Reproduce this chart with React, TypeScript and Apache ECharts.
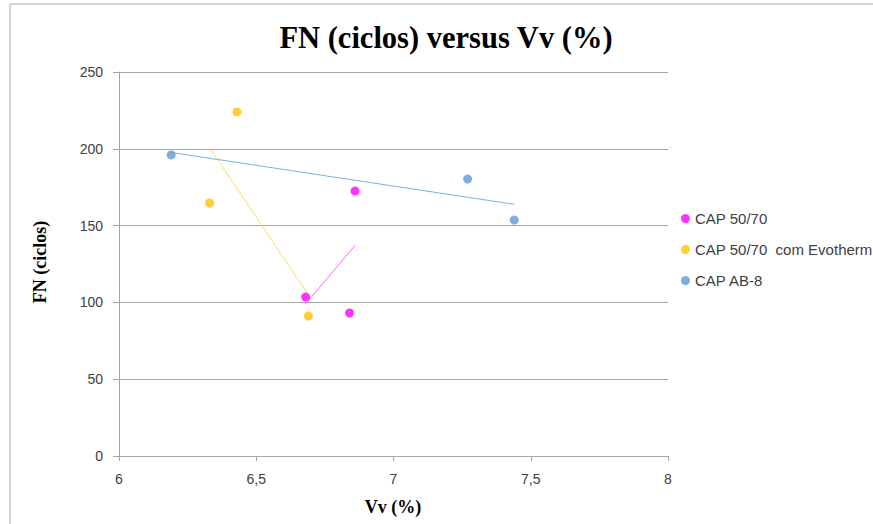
import React, { useEffect, useRef } from "react";
import * as echarts from "echarts";

const seriesNames = ["CAP 50/70", "CAP 50/70  com Evotherm", "CAP AB-8"];
const colors = ["#FF00FF", "#FFC000", "#5B9BD5"];
const trendColors = ["#FF66FF", "#FFD966", "#7EAFDD"];

const cap5070X = [6.68, 6.84, 6.86];
const cap5070Y = [103.5, 93.1, 172.5];
const evothermX = [6.33, 6.43, 6.69];
const evothermY = [164.7, 224, 91.1];
const ab8X = [6.19, 7.27, 7.44];
const ab8Y = [196, 180.3, 153.6];

const xTicks = [6, 6.5, 7, 7.5, 8];
const yTicks = [0, 50, 100, 150, 200, 250];

function regressionEnds(xs: number[], ys: number[]) {
  const n = xs.length;
  const mx = xs.reduce((a, b) => a + b, 0) / n;
  const my = ys.reduce((a, b) => a + b, 0) / n;
  let sxy = 0;
  let sxx = 0;
  for (let i = 0; i < n; i++) {
    sxy += (xs[i] - mx) * (ys[i] - my);
    sxx += (xs[i] - mx) * (xs[i] - mx);
  }
  const slope = sxy / sxx;
  const x0 = Math.min(...xs);
  const x1 = Math.max(...xs);
  return [
    [x0, my + slope * (x0 - mx)],
    [x1, my + slope * (x1 - mx)],
  ];
}

export default function App() {
  const ref = useRef<HTMLDivElement>(null);
  useEffect(() => {
    if (!ref.current) return;
    const chart = echarts.init(ref.current, null, { renderer: "svg" });
    const sets = [
      [cap5070X, cap5070Y],
      [evothermX, evothermY],
      [ab8X, ab8Y],
    ];
    const scatterSeries = sets.map(([xs, ys], i) => ({
      type: "scatter",
      name: seriesNames[i],
      data: xs.map((x, j) => [x, ys[j]]),
      symbol: "circle",
      symbolSize: 9,
      itemStyle: { color: colors[i] },
      z: 3,
    }));
    const trendSeries = sets.map(([xs, ys], i) => ({
      type: "line",
      name: seriesNames[i] + " trend",
      data: regressionEnds(xs, ys),
      symbol: "none",
      silent: true,
      lineStyle: { color: trendColors[i], width: 1 },
      z: 2,
    }));
    chart.setOption({
      animation: false,
      backgroundColor: "#ffffff",
      textStyle: { fontFamily: "Liberation Sans" },
      grid: { left: 119, top: 72, right: 205, bottom: 68 },
      xAxis: {
        type: "value",
        min: xTicks[0],
        max: xTicks[xTicks.length - 1],
        interval: 0.5,
        axisLine: { show: true, lineStyle: { color: "#A6A6A6" } },
        axisTick: { show: true, length: 5, lineStyle: { color: "#A6A6A6" } },
        splitLine: { show: false },
        axisLabel: {
          color: "#404040",
          fontSize: 14,
          margin: 16,
          formatter: (v: number) => String(v).replace(".", ","),
        },
      },
      yAxis: {
        type: "value",
        min: yTicks[0],
        max: yTicks[yTicks.length - 1],
        interval: 50,
        axisLine: { show: true, lineStyle: { color: "#A6A6A6" } },
        axisTick: { show: true, length: 6, lineStyle: { color: "#A6A6A6" } },
        splitLine: { show: true, lineStyle: { color: "#A6A6A6" } },
        axisLabel: { color: "#404040", fontSize: 14, margin: 16 },
      },
      legend: {
        orient: "vertical",
        left: 676,
        top: 206,
        itemWidth: 9,
        itemHeight: 9,
        itemGap: 16,
        icon: "circle",
        data: seriesNames,
        textStyle: { color: "#404040", fontSize: 15, fontFamily: "Liberation Sans" },
      },
      graphic: [
        {
          type: "rect",
          shape: { x: 10, y: 4, width: 900, height: 600 },
          style: { fill: "none", stroke: "#A6A6A6", lineWidth: 1 },
          silent: true,
        },
        {
          type: "text",
          x: 446,
          y: 38,
          style: {
            text: "FN (ciclos) versus Vv (%)",
            font: "bold 30.5px 'Liberation Serif'",
            fill: "#000",
            align: "center",
            verticalAlign: "middle",
          },
        },
        {
          type: "text",
          x: 393,
          y: 507,
          style: {
            text: "Vv (%)",
            font: "bold 18px 'Liberation Serif'",
            fill: "#000",
            align: "center",
            verticalAlign: "middle",
          },
        },
        {
          type: "text",
          x: 40,
          y: 262,
          rotation: Math.PI / 2,
          style: {
            text: "FN (ciclos)",
            font: "bold 18px 'Liberation Serif'",
            fill: "#000",
            align: "center",
            verticalAlign: "middle",
          },
        },
      ],
      series: [...trendSeries, ...scatterSeries],
    });
    return () => chart.dispose();
  }, []);
  return (
    <div
      ref={ref}
      style={{ position: "fixed", left: 0, top: 0, width: 873, height: 524 }}
    />
  );
}
